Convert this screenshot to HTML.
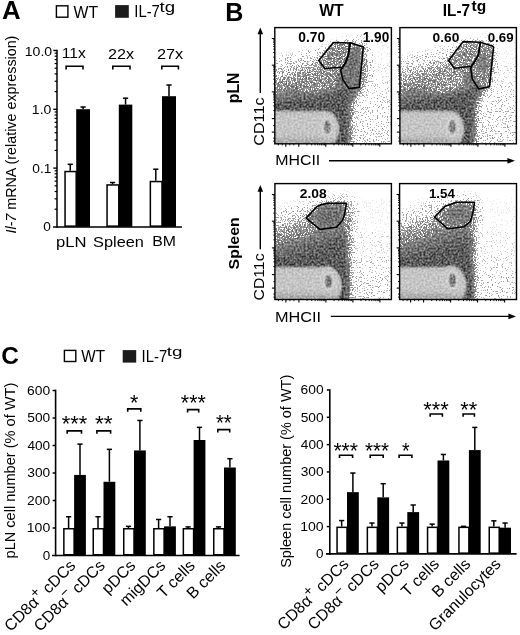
<!DOCTYPE html>
<html><head><meta charset="utf-8"><style>html,body{margin:0;padding:0;background:#fff;}svg{display:block;filter:grayscale(1);font-family:"Liberation Sans", sans-serif;}</style></head>
<body><svg width="520" height="635" viewBox="0 0 520 635" font-family="'Liberation Sans', sans-serif">
<defs><filter id="b1" x="-50%" y="-50%" width="200%" height="200%" color-interpolation-filters="sRGB"><feGaussianBlur stdDeviation="0.5"/></filter><filter id="b2" x="-50%" y="-50%" width="200%" height="200%" color-interpolation-filters="sRGB"><feGaussianBlur stdDeviation="1.0"/></filter><filter id="b3" x="-50%" y="-50%" width="200%" height="200%" color-interpolation-filters="sRGB"><feGaussianBlur stdDeviation="1.5"/></filter><filter id="b4" x="-50%" y="-50%" width="200%" height="200%" color-interpolation-filters="sRGB"><feGaussianBlur stdDeviation="2.0"/></filter><filter id="b5" x="-50%" y="-50%" width="200%" height="200%" color-interpolation-filters="sRGB"><feGaussianBlur stdDeviation="2.5"/></filter><filter id="b6" x="-50%" y="-50%" width="200%" height="200%" color-interpolation-filters="sRGB"><feGaussianBlur stdDeviation="3.0"/></filter><filter id="b8" x="-50%" y="-50%" width="200%" height="200%" color-interpolation-filters="sRGB"><feGaussianBlur stdDeviation="4.0"/></filter><filter id="b10" x="-50%" y="-50%" width="200%" height="200%" color-interpolation-filters="sRGB"><feGaussianBlur stdDeviation="5.0"/></filter><linearGradient id="lg1" gradientUnits="userSpaceOnUse" x1="0" y1="27" x2="0" y2="150"><stop offset="0" stop-color="rgb(0,0,0)"/><stop offset="0.2" stop-color="rgb(1,1,1)"/><stop offset="0.5" stop-color="rgb(3,3,3)"/><stop offset="0.8" stop-color="rgb(6,6,6)"/><stop offset="1.0" stop-color="rgb(7,7,7)"/></linearGradient><linearGradient id="lg2" gradientUnits="userSpaceOnUse" x1="274" y1="58" x2="287.5" y2="108.2"><stop offset="0" stop-color="rgb(0,0,0)"/><stop offset="0.033" stop-color="rgb(2,2,2)"/><stop offset="0.18" stop-color="rgb(10,10,10)"/><stop offset="0.35" stop-color="rgb(20,20,20)"/><stop offset="0.55" stop-color="rgb(32,32,32)"/><stop offset="0.74" stop-color="rgb(42,42,42)"/><stop offset="0.85" stop-color="rgb(52,52,52)"/><stop offset="0.94" stop-color="rgb(64,64,64)"/><stop offset="1.0" stop-color="rgb(69,69,69)"/></linearGradient><filter id="fl1" filterUnits="userSpaceOnUse" x="274.8" y="27.6" width="116.59999999999997" height="116.20000000000002" color-interpolation-filters="sRGB">
<feColorMatrix in="SourceGraphic" type="matrix" values="0 0 0 0 0 0 0 0 0 0 0 0 0 0 0 1 0 0 0 0" result="DA"/>
<feTurbulence type="fractalNoise" baseFrequency="0.8" numOctaves="2" seed="3" result="T"/>
<feColorMatrix in="T" type="matrix" values="0 0 0 0 0 0 0 0 0 0 0 0 0 0 0 1 0 0 0 0" result="NA"/>
<feComponentTransfer in="NA" result="NU"><feFuncA type="linear" slope="3.2" intercept="-1.1"/></feComponentTransfer>
<feComposite in="DA" in2="NU" operator="arithmetic" k1="0" k2="70.0" k3="-10" k4="0" result="COV"/>
<feComponentTransfer in="SourceGraphic" result="CM"><feFuncR type="table" tableValues="0.660 0.660 0.660 0.613 0.575 0.545 0.523 0.507 0.488 0.464 0.440 0.412 0.384 0.366 0.358 0.350 0.360 0.370 0.380 0.418 0.456 0.493 0.531 0.567 0.601 0.635 0.669 0.703 0.724 0.732 0.740 0.748 0.756 0.762 0.766 0.771 0.775 0.786 0.797 0.809 0.820 0.797 0.774 0.751 0.712 0.655 0.598 0.553 0.519 0.484 0.450"/><feFuncG type="table" tableValues="0.660 0.660 0.660 0.613 0.575 0.545 0.523 0.507 0.488 0.464 0.440 0.412 0.384 0.366 0.358 0.350 0.360 0.370 0.380 0.418 0.456 0.493 0.531 0.567 0.601 0.635 0.669 0.703 0.724 0.732 0.740 0.748 0.756 0.762 0.766 0.771 0.775 0.786 0.797 0.809 0.820 0.797 0.774 0.751 0.712 0.655 0.598 0.553 0.519 0.484 0.450"/><feFuncB type="table" tableValues="0.660 0.660 0.660 0.613 0.575 0.545 0.523 0.507 0.488 0.464 0.440 0.412 0.384 0.366 0.358 0.350 0.360 0.370 0.380 0.418 0.456 0.493 0.531 0.567 0.601 0.635 0.669 0.703 0.724 0.732 0.740 0.748 0.756 0.762 0.766 0.771 0.775 0.786 0.797 0.809 0.820 0.797 0.774 0.751 0.712 0.655 0.598 0.553 0.519 0.484 0.450"/><feFuncA type="linear" slope="0" intercept="1"/></feComponentTransfer>
<feTurbulence type="fractalNoise" baseFrequency="0.5" numOctaves="2" seed="53" result="T2"/>
<feColorMatrix in="T2" type="matrix" values="2.4 0 0 0 -0.7 2.4 0 0 0 -0.7 2.4 0 0 0 -0.7 0 0 0 0 1" result="N2"/>
<feComposite in="CM" in2="N2" operator="arithmetic" k1="-0.6" k2="1.3" k3="0.6" k4="-0.3" result="CMN"/>
<feComposite in="CMN" in2="COV" operator="in" result="DOTS"/>
<feFlood flood-color="#fff" result="W"/>
<feMerge result="M"><feMergeNode in="W"/><feMergeNode in="DOTS"/></feMerge>
<feGaussianBlur in="M" stdDeviation="0.6"/>
</filter><clipPath id="cp1"><rect x="274.8" y="27.6" width="116.60" height="116.20"/></clipPath><linearGradient id="lg3" gradientUnits="userSpaceOnUse" x1="0" y1="27" x2="0" y2="150"><stop offset="0" stop-color="rgb(0,0,0)"/><stop offset="0.2" stop-color="rgb(1,1,1)"/><stop offset="0.5" stop-color="rgb(3,3,3)"/><stop offset="0.8" stop-color="rgb(6,6,6)"/><stop offset="1.0" stop-color="rgb(7,7,7)"/></linearGradient><linearGradient id="lg4" gradientUnits="userSpaceOnUse" x1="399.1" y1="58" x2="412.6" y2="108.2"><stop offset="0" stop-color="rgb(0,0,0)"/><stop offset="0.033" stop-color="rgb(2,2,2)"/><stop offset="0.18" stop-color="rgb(10,10,10)"/><stop offset="0.35" stop-color="rgb(20,20,20)"/><stop offset="0.55" stop-color="rgb(32,32,32)"/><stop offset="0.74" stop-color="rgb(42,42,42)"/><stop offset="0.85" stop-color="rgb(52,52,52)"/><stop offset="0.94" stop-color="rgb(64,64,64)"/><stop offset="1.0" stop-color="rgb(69,69,69)"/></linearGradient><filter id="fl2" filterUnits="userSpaceOnUse" x="399.9" y="27.6" width="116.5" height="116.20000000000002" color-interpolation-filters="sRGB">
<feColorMatrix in="SourceGraphic" type="matrix" values="0 0 0 0 0 0 0 0 0 0 0 0 0 0 0 1 0 0 0 0" result="DA"/>
<feTurbulence type="fractalNoise" baseFrequency="0.8" numOctaves="2" seed="7" result="T"/>
<feColorMatrix in="T" type="matrix" values="0 0 0 0 0 0 0 0 0 0 0 0 0 0 0 1 0 0 0 0" result="NA"/>
<feComponentTransfer in="NA" result="NU"><feFuncA type="linear" slope="3.2" intercept="-1.1"/></feComponentTransfer>
<feComposite in="DA" in2="NU" operator="arithmetic" k1="0" k2="70.0" k3="-10" k4="0" result="COV"/>
<feComponentTransfer in="SourceGraphic" result="CM"><feFuncR type="table" tableValues="0.660 0.660 0.660 0.613 0.575 0.545 0.523 0.507 0.488 0.464 0.440 0.412 0.384 0.366 0.358 0.350 0.360 0.370 0.380 0.418 0.456 0.493 0.531 0.567 0.601 0.635 0.669 0.703 0.724 0.732 0.740 0.748 0.756 0.762 0.766 0.771 0.775 0.786 0.797 0.809 0.820 0.797 0.774 0.751 0.712 0.655 0.598 0.553 0.519 0.484 0.450"/><feFuncG type="table" tableValues="0.660 0.660 0.660 0.613 0.575 0.545 0.523 0.507 0.488 0.464 0.440 0.412 0.384 0.366 0.358 0.350 0.360 0.370 0.380 0.418 0.456 0.493 0.531 0.567 0.601 0.635 0.669 0.703 0.724 0.732 0.740 0.748 0.756 0.762 0.766 0.771 0.775 0.786 0.797 0.809 0.820 0.797 0.774 0.751 0.712 0.655 0.598 0.553 0.519 0.484 0.450"/><feFuncB type="table" tableValues="0.660 0.660 0.660 0.613 0.575 0.545 0.523 0.507 0.488 0.464 0.440 0.412 0.384 0.366 0.358 0.350 0.360 0.370 0.380 0.418 0.456 0.493 0.531 0.567 0.601 0.635 0.669 0.703 0.724 0.732 0.740 0.748 0.756 0.762 0.766 0.771 0.775 0.786 0.797 0.809 0.820 0.797 0.774 0.751 0.712 0.655 0.598 0.553 0.519 0.484 0.450"/><feFuncA type="linear" slope="0" intercept="1"/></feComponentTransfer>
<feTurbulence type="fractalNoise" baseFrequency="0.5" numOctaves="2" seed="57" result="T2"/>
<feColorMatrix in="T2" type="matrix" values="2.4 0 0 0 -0.7 2.4 0 0 0 -0.7 2.4 0 0 0 -0.7 0 0 0 0 1" result="N2"/>
<feComposite in="CM" in2="N2" operator="arithmetic" k1="-0.6" k2="1.3" k3="0.6" k4="-0.3" result="CMN"/>
<feComposite in="CMN" in2="COV" operator="in" result="DOTS"/>
<feFlood flood-color="#fff" result="W"/>
<feMerge result="M"><feMergeNode in="W"/><feMergeNode in="DOTS"/></feMerge>
<feGaussianBlur in="M" stdDeviation="0.6"/>
</filter><clipPath id="cp2"><rect x="399.9" y="27.6" width="116.50" height="116.20"/></clipPath><linearGradient id="lg5" gradientUnits="userSpaceOnUse" x1="0" y1="183" x2="0" y2="305"><stop offset="0" stop-color="rgb(0,0,0)"/><stop offset="0.2" stop-color="rgb(1,1,1)"/><stop offset="0.5" stop-color="rgb(2,2,2)"/><stop offset="0.8" stop-color="rgb(4,4,4)"/><stop offset="1.0" stop-color="rgb(5,5,5)"/></linearGradient><linearGradient id="lg6" gradientUnits="userSpaceOnUse" x1="274" y1="204" x2="292.6" y2="263.1"><stop offset="0" stop-color="rgb(0,0,0)"/><stop offset="0.145" stop-color="rgb(2,2,2)"/><stop offset="0.268" stop-color="rgb(10,10,10)"/><stop offset="0.39" stop-color="rgb(19,19,19)"/><stop offset="0.545" stop-color="rgb(31,31,31)"/><stop offset="0.7" stop-color="rgb(41,41,41)"/><stop offset="0.806" stop-color="rgb(52,52,52)"/><stop offset="0.9" stop-color="rgb(64,64,64)"/><stop offset="1.0" stop-color="rgb(69,69,69)"/></linearGradient><filter id="fl3" filterUnits="userSpaceOnUse" x="274.9" y="183.6" width="116.5" height="115.9" color-interpolation-filters="sRGB">
<feColorMatrix in="SourceGraphic" type="matrix" values="0 0 0 0 0 0 0 0 0 0 0 0 0 0 0 1 0 0 0 0" result="DA"/>
<feTurbulence type="fractalNoise" baseFrequency="0.8" numOctaves="2" seed="11" result="T"/>
<feColorMatrix in="T" type="matrix" values="0 0 0 0 0 0 0 0 0 0 0 0 0 0 0 1 0 0 0 0" result="NA"/>
<feComponentTransfer in="NA" result="NU"><feFuncA type="linear" slope="3.2" intercept="-1.1"/></feComponentTransfer>
<feComposite in="DA" in2="NU" operator="arithmetic" k1="0" k2="70.0" k3="-10" k4="0" result="COV"/>
<feComponentTransfer in="SourceGraphic" result="CM"><feFuncR type="table" tableValues="0.660 0.660 0.660 0.613 0.575 0.545 0.523 0.507 0.488 0.464 0.440 0.412 0.384 0.366 0.358 0.350 0.360 0.370 0.380 0.418 0.456 0.493 0.531 0.567 0.601 0.635 0.669 0.703 0.724 0.732 0.740 0.748 0.756 0.762 0.766 0.771 0.775 0.786 0.797 0.809 0.820 0.797 0.774 0.751 0.712 0.655 0.598 0.553 0.519 0.484 0.450"/><feFuncG type="table" tableValues="0.660 0.660 0.660 0.613 0.575 0.545 0.523 0.507 0.488 0.464 0.440 0.412 0.384 0.366 0.358 0.350 0.360 0.370 0.380 0.418 0.456 0.493 0.531 0.567 0.601 0.635 0.669 0.703 0.724 0.732 0.740 0.748 0.756 0.762 0.766 0.771 0.775 0.786 0.797 0.809 0.820 0.797 0.774 0.751 0.712 0.655 0.598 0.553 0.519 0.484 0.450"/><feFuncB type="table" tableValues="0.660 0.660 0.660 0.613 0.575 0.545 0.523 0.507 0.488 0.464 0.440 0.412 0.384 0.366 0.358 0.350 0.360 0.370 0.380 0.418 0.456 0.493 0.531 0.567 0.601 0.635 0.669 0.703 0.724 0.732 0.740 0.748 0.756 0.762 0.766 0.771 0.775 0.786 0.797 0.809 0.820 0.797 0.774 0.751 0.712 0.655 0.598 0.553 0.519 0.484 0.450"/><feFuncA type="linear" slope="0" intercept="1"/></feComponentTransfer>
<feTurbulence type="fractalNoise" baseFrequency="0.5" numOctaves="2" seed="61" result="T2"/>
<feColorMatrix in="T2" type="matrix" values="2.4 0 0 0 -0.7 2.4 0 0 0 -0.7 2.4 0 0 0 -0.7 0 0 0 0 1" result="N2"/>
<feComposite in="CM" in2="N2" operator="arithmetic" k1="-0.6" k2="1.3" k3="0.6" k4="-0.3" result="CMN"/>
<feComposite in="CMN" in2="COV" operator="in" result="DOTS"/>
<feFlood flood-color="#fff" result="W"/>
<feMerge result="M"><feMergeNode in="W"/><feMergeNode in="DOTS"/></feMerge>
<feGaussianBlur in="M" stdDeviation="0.6"/>
</filter><clipPath id="cp3"><rect x="274.9" y="183.6" width="116.50" height="115.90"/></clipPath><linearGradient id="lg7" gradientUnits="userSpaceOnUse" x1="0" y1="183" x2="0" y2="305"><stop offset="0" stop-color="rgb(0,0,0)"/><stop offset="0.2" stop-color="rgb(1,1,1)"/><stop offset="0.5" stop-color="rgb(2,2,2)"/><stop offset="0.8" stop-color="rgb(4,4,4)"/><stop offset="1.0" stop-color="rgb(5,5,5)"/></linearGradient><linearGradient id="lg8" gradientUnits="userSpaceOnUse" x1="398.7" y1="204" x2="417.3" y2="263.1"><stop offset="0" stop-color="rgb(0,0,0)"/><stop offset="0.145" stop-color="rgb(2,2,2)"/><stop offset="0.268" stop-color="rgb(10,10,10)"/><stop offset="0.39" stop-color="rgb(19,19,19)"/><stop offset="0.545" stop-color="rgb(31,31,31)"/><stop offset="0.7" stop-color="rgb(41,41,41)"/><stop offset="0.806" stop-color="rgb(52,52,52)"/><stop offset="0.9" stop-color="rgb(64,64,64)"/><stop offset="1.0" stop-color="rgb(69,69,69)"/></linearGradient><filter id="fl4" filterUnits="userSpaceOnUse" x="399.6" y="183.6" width="116.89999999999998" height="115.9" color-interpolation-filters="sRGB">
<feColorMatrix in="SourceGraphic" type="matrix" values="0 0 0 0 0 0 0 0 0 0 0 0 0 0 0 1 0 0 0 0" result="DA"/>
<feTurbulence type="fractalNoise" baseFrequency="0.8" numOctaves="2" seed="13" result="T"/>
<feColorMatrix in="T" type="matrix" values="0 0 0 0 0 0 0 0 0 0 0 0 0 0 0 1 0 0 0 0" result="NA"/>
<feComponentTransfer in="NA" result="NU"><feFuncA type="linear" slope="3.2" intercept="-1.1"/></feComponentTransfer>
<feComposite in="DA" in2="NU" operator="arithmetic" k1="0" k2="70.0" k3="-10" k4="0" result="COV"/>
<feComponentTransfer in="SourceGraphic" result="CM"><feFuncR type="table" tableValues="0.660 0.660 0.660 0.613 0.575 0.545 0.523 0.507 0.488 0.464 0.440 0.412 0.384 0.366 0.358 0.350 0.360 0.370 0.380 0.418 0.456 0.493 0.531 0.567 0.601 0.635 0.669 0.703 0.724 0.732 0.740 0.748 0.756 0.762 0.766 0.771 0.775 0.786 0.797 0.809 0.820 0.797 0.774 0.751 0.712 0.655 0.598 0.553 0.519 0.484 0.450"/><feFuncG type="table" tableValues="0.660 0.660 0.660 0.613 0.575 0.545 0.523 0.507 0.488 0.464 0.440 0.412 0.384 0.366 0.358 0.350 0.360 0.370 0.380 0.418 0.456 0.493 0.531 0.567 0.601 0.635 0.669 0.703 0.724 0.732 0.740 0.748 0.756 0.762 0.766 0.771 0.775 0.786 0.797 0.809 0.820 0.797 0.774 0.751 0.712 0.655 0.598 0.553 0.519 0.484 0.450"/><feFuncB type="table" tableValues="0.660 0.660 0.660 0.613 0.575 0.545 0.523 0.507 0.488 0.464 0.440 0.412 0.384 0.366 0.358 0.350 0.360 0.370 0.380 0.418 0.456 0.493 0.531 0.567 0.601 0.635 0.669 0.703 0.724 0.732 0.740 0.748 0.756 0.762 0.766 0.771 0.775 0.786 0.797 0.809 0.820 0.797 0.774 0.751 0.712 0.655 0.598 0.553 0.519 0.484 0.450"/><feFuncA type="linear" slope="0" intercept="1"/></feComponentTransfer>
<feTurbulence type="fractalNoise" baseFrequency="0.5" numOctaves="2" seed="63" result="T2"/>
<feColorMatrix in="T2" type="matrix" values="2.4 0 0 0 -0.7 2.4 0 0 0 -0.7 2.4 0 0 0 -0.7 0 0 0 0 1" result="N2"/>
<feComposite in="CM" in2="N2" operator="arithmetic" k1="-0.6" k2="1.3" k3="0.6" k4="-0.3" result="CMN"/>
<feComposite in="CMN" in2="COV" operator="in" result="DOTS"/>
<feFlood flood-color="#fff" result="W"/>
<feMerge result="M"><feMergeNode in="W"/><feMergeNode in="DOTS"/></feMerge>
<feGaussianBlur in="M" stdDeviation="0.6"/>
</filter><clipPath id="cp4"><rect x="399.6" y="183.6" width="116.90" height="115.90"/></clipPath></defs>
<rect width="520" height="635" fill="#fff"/>
<text transform="translate(1.95,19.30) scale(1.030,1)" font-size="25.07" font-weight="bold" fill="#000">A</text>
<rect x="56.40" y="5.80" width="11.50" height="11.40" fill="#fff" stroke="#000" stroke-width="1.4"/>
<text transform="translate(73.52,17.50) scale(0.933,1)" font-size="16.96" fill="#000">WT</text>
<rect x="115.10" y="5.10" width="13.70" height="12.70" fill="#1c1c1c"/>
<text transform="translate(134.26,17.20) scale(0.925,1)" font-size="16.09" fill="#000">IL-7</text>
<text transform="translate(159.52,11.77) scale(1.295,1)" font-size="14.42" fill="#000">tg</text>
<text transform="translate(16.29,233.57) rotate(-90) scale(0.999,1)" font-size="14.33"><tspan font-style="italic">Il-7</tspan><tspan> mRNA (relative expression)</tspan></text>
<line x1="57.00" y1="49.75" x2="57.00" y2="227.65" stroke="#000" stroke-width="1.5"/>
<line x1="53.00" y1="226.90" x2="182.00" y2="226.90" stroke="#000" stroke-width="1.5"/>
<line x1="53.30" y1="50.50" x2="57.00" y2="50.50" stroke="#000" stroke-width="1.4"/>
<line x1="54.60" y1="91.60" x2="57.00" y2="91.60" stroke="#000" stroke-width="1.2"/>
<line x1="54.60" y1="81.25" x2="57.00" y2="81.25" stroke="#000" stroke-width="1.2"/>
<line x1="54.60" y1="73.90" x2="57.00" y2="73.90" stroke="#000" stroke-width="1.2"/>
<line x1="54.60" y1="68.20" x2="57.00" y2="68.20" stroke="#000" stroke-width="1.2"/>
<line x1="54.60" y1="63.54" x2="57.00" y2="63.54" stroke="#000" stroke-width="1.2"/>
<line x1="54.60" y1="59.61" x2="57.00" y2="59.61" stroke="#000" stroke-width="1.2"/>
<line x1="54.60" y1="56.20" x2="57.00" y2="56.20" stroke="#000" stroke-width="1.2"/>
<line x1="54.60" y1="53.19" x2="57.00" y2="53.19" stroke="#000" stroke-width="1.2"/>
<line x1="53.30" y1="109.30" x2="57.00" y2="109.30" stroke="#000" stroke-width="1.4"/>
<line x1="54.60" y1="150.40" x2="57.00" y2="150.40" stroke="#000" stroke-width="1.2"/>
<line x1="54.60" y1="140.05" x2="57.00" y2="140.05" stroke="#000" stroke-width="1.2"/>
<line x1="54.60" y1="132.70" x2="57.00" y2="132.70" stroke="#000" stroke-width="1.2"/>
<line x1="54.60" y1="127.00" x2="57.00" y2="127.00" stroke="#000" stroke-width="1.2"/>
<line x1="54.60" y1="122.34" x2="57.00" y2="122.34" stroke="#000" stroke-width="1.2"/>
<line x1="54.60" y1="118.41" x2="57.00" y2="118.41" stroke="#000" stroke-width="1.2"/>
<line x1="54.60" y1="115.00" x2="57.00" y2="115.00" stroke="#000" stroke-width="1.2"/>
<line x1="54.60" y1="111.99" x2="57.00" y2="111.99" stroke="#000" stroke-width="1.2"/>
<line x1="53.30" y1="168.10" x2="57.00" y2="168.10" stroke="#000" stroke-width="1.4"/>
<line x1="54.60" y1="209.20" x2="57.00" y2="209.20" stroke="#000" stroke-width="1.2"/>
<line x1="54.60" y1="198.85" x2="57.00" y2="198.85" stroke="#000" stroke-width="1.2"/>
<line x1="54.60" y1="191.50" x2="57.00" y2="191.50" stroke="#000" stroke-width="1.2"/>
<line x1="54.60" y1="185.80" x2="57.00" y2="185.80" stroke="#000" stroke-width="1.2"/>
<line x1="54.60" y1="181.14" x2="57.00" y2="181.14" stroke="#000" stroke-width="1.2"/>
<line x1="54.60" y1="177.21" x2="57.00" y2="177.21" stroke="#000" stroke-width="1.2"/>
<line x1="54.60" y1="173.80" x2="57.00" y2="173.80" stroke="#000" stroke-width="1.2"/>
<line x1="54.60" y1="170.79" x2="57.00" y2="170.79" stroke="#000" stroke-width="1.2"/>
<text transform="translate(24.74,55.77) scale(1.088,1)" font-size="12.96" fill="#000">10.0</text>
<text transform="translate(31.85,114.27) scale(1.049,1)" font-size="13.38" fill="#000">1.0</text>
<text transform="translate(32.35,172.97) scale(1.029,1)" font-size="13.38" fill="#000">0.1</text>
<text transform="translate(43.25,231.07) scale(1.034,1)" font-size="13.24" fill="#000">0</text>
<rect x="65.05" y="171.55" width="11.15" height="54.60" fill="#fff" stroke="#000" stroke-width="1.5"/>
<line x1="70.25" y1="170.80" x2="70.25" y2="164.30" stroke="#000" stroke-width="1.5"/>
<line x1="67.65" y1="164.30" x2="72.85" y2="164.30" stroke="#000" stroke-width="1.5"/>
<rect x="76.20" y="109.20" width="13.80" height="117.70" fill="#000"/>
<line x1="83.10" y1="109.20" x2="83.10" y2="107.00" stroke="#000" stroke-width="1.5"/>
<line x1="80.50" y1="107.00" x2="85.70" y2="107.00" stroke="#000" stroke-width="1.5"/>
<rect x="107.05" y="184.95" width="11.75" height="41.20" fill="#fff" stroke="#000" stroke-width="1.5"/>
<line x1="112.55" y1="184.20" x2="112.55" y2="182.50" stroke="#000" stroke-width="1.5"/>
<line x1="109.95" y1="182.50" x2="115.15" y2="182.50" stroke="#000" stroke-width="1.5"/>
<rect x="118.80" y="104.60" width="13.50" height="122.30" fill="#000"/>
<line x1="125.55" y1="104.60" x2="125.55" y2="98.20" stroke="#000" stroke-width="1.5"/>
<line x1="122.95" y1="98.20" x2="128.15" y2="98.20" stroke="#000" stroke-width="1.5"/>
<rect x="150.35" y="181.55" width="11.65" height="44.60" fill="#fff" stroke="#000" stroke-width="1.5"/>
<line x1="155.80" y1="180.80" x2="155.80" y2="169.20" stroke="#000" stroke-width="1.5"/>
<line x1="153.20" y1="169.20" x2="158.40" y2="169.20" stroke="#000" stroke-width="1.5"/>
<rect x="162.00" y="96.20" width="14.00" height="130.70" fill="#000"/>
<line x1="169.00" y1="96.20" x2="169.00" y2="85.00" stroke="#000" stroke-width="1.5"/>
<line x1="166.40" y1="85.00" x2="171.60" y2="85.00" stroke="#000" stroke-width="1.5"/>
<text transform="translate(61.83,58.49) scale(1.007,1)" font-size="15.50" fill="#000">11x</text>
<text transform="translate(107.99,58.65) scale(1.041,1)" font-size="15.50" fill="#000">22x</text>
<text transform="translate(156.88,58.65) scale(1.053,1)" font-size="15.50" fill="#000">27x</text>
<path d="M66.10,69.50V66.30H83.00V69.50" fill="none" stroke="#000" stroke-width="1.6"/>
<path d="M112.80,69.50V66.30H130.00V69.50" fill="none" stroke="#000" stroke-width="1.6"/>
<path d="M161.80,69.50V66.30H178.40V69.50" fill="none" stroke="#000" stroke-width="1.6"/>
<text transform="translate(56.12,246.82) scale(1.133,1)" font-size="14.67" fill="#000">pLN</text>
<text transform="translate(93.06,246.84) scale(1.135,1)" font-size="14.40" fill="#000">Spleen</text>
<text transform="translate(152.24,246.34) scale(1.098,1)" font-size="14.40" fill="#000">BM</text>
<text transform="translate(1.32,363.97) scale(1.051,1)" font-size="23.24" font-weight="bold" fill="#000">C</text>
<rect x="64.40" y="350.40" width="11.40" height="11.10" fill="#fff" stroke="#000" stroke-width="1.4"/>
<text transform="translate(81.22,361.80) scale(0.968,1)" font-size="15.80" fill="#000">WT</text>
<rect x="122.70" y="350.10" width="13.50" height="12.50" fill="#1c1c1c"/>
<text transform="translate(141.56,361.80) scale(0.954,1)" font-size="15.65" fill="#000">IL-7</text>
<text transform="translate(166.82,356.02) scale(1.419,1)" font-size="13.26" fill="#000">tg</text>
<line x1="55.60" y1="389.70" x2="55.60" y2="556.30" stroke="#000" stroke-width="1.6"/>
<line x1="52.00" y1="555.50" x2="239.60" y2="555.50" stroke="#000" stroke-width="1.6"/>
<line x1="52.60" y1="528.00" x2="55.60" y2="528.00" stroke="#000" stroke-width="1.5"/>
<line x1="52.60" y1="500.50" x2="55.60" y2="500.50" stroke="#000" stroke-width="1.5"/>
<line x1="52.60" y1="473.00" x2="55.60" y2="473.00" stroke="#000" stroke-width="1.5"/>
<line x1="52.60" y1="445.50" x2="55.60" y2="445.50" stroke="#000" stroke-width="1.5"/>
<line x1="52.60" y1="418.00" x2="55.60" y2="418.00" stroke="#000" stroke-width="1.5"/>
<line x1="52.60" y1="390.50" x2="55.60" y2="390.50" stroke="#000" stroke-width="1.5"/>
<text transform="translate(42.66,559.77) scale(1.063,1)" font-size="12.68" fill="#000">0</text>
<text transform="translate(26.75,532.27) scale(1.110,1)" font-size="12.68" fill="#000">100</text>
<text transform="translate(27.11,504.77) scale(1.092,1)" font-size="12.68" fill="#000">200</text>
<text transform="translate(27.25,477.27) scale(1.085,1)" font-size="12.68" fill="#000">300</text>
<text transform="translate(27.46,449.77) scale(1.075,1)" font-size="12.68" fill="#000">400</text>
<text transform="translate(27.25,422.27) scale(1.085,1)" font-size="12.68" fill="#000">500</text>
<text transform="translate(27.11,394.77) scale(1.092,1)" font-size="12.68" fill="#000">600</text>
<rect x="63.85" y="528.75" width="10.25" height="26.00" fill="#fff" stroke="#000" stroke-width="1.5"/>
<line x1="68.60" y1="528.00" x2="68.60" y2="516.73" stroke="#000" stroke-width="1.5"/>
<line x1="66.00" y1="516.73" x2="71.20" y2="516.73" stroke="#000" stroke-width="1.5"/>
<rect x="74.10" y="474.93" width="11.80" height="80.57" fill="#000"/>
<line x1="80.00" y1="474.93" x2="80.00" y2="444.12" stroke="#000" stroke-width="1.5"/>
<line x1="77.40" y1="444.12" x2="82.60" y2="444.12" stroke="#000" stroke-width="1.5"/>
<rect x="93.25" y="528.75" width="10.25" height="26.00" fill="#fff" stroke="#000" stroke-width="1.5"/>
<line x1="98.00" y1="528.00" x2="98.00" y2="516.73" stroke="#000" stroke-width="1.5"/>
<line x1="95.40" y1="516.73" x2="100.60" y2="516.73" stroke="#000" stroke-width="1.5"/>
<rect x="103.50" y="481.80" width="11.80" height="73.70" fill="#000"/>
<line x1="109.40" y1="481.80" x2="109.40" y2="449.35" stroke="#000" stroke-width="1.5"/>
<line x1="106.80" y1="449.35" x2="112.00" y2="449.35" stroke="#000" stroke-width="1.5"/>
<rect x="123.75" y="528.75" width="10.25" height="26.00" fill="#fff" stroke="#000" stroke-width="1.5"/>
<line x1="128.50" y1="528.00" x2="128.50" y2="526.35" stroke="#000" stroke-width="1.5"/>
<line x1="125.90" y1="526.35" x2="131.10" y2="526.35" stroke="#000" stroke-width="1.5"/>
<rect x="134.00" y="450.45" width="11.80" height="105.05" fill="#000"/>
<line x1="139.90" y1="450.45" x2="139.90" y2="420.48" stroke="#000" stroke-width="1.5"/>
<line x1="137.30" y1="420.48" x2="142.50" y2="420.48" stroke="#000" stroke-width="1.5"/>
<rect x="153.85" y="528.75" width="10.25" height="26.00" fill="#fff" stroke="#000" stroke-width="1.5"/>
<line x1="158.60" y1="528.00" x2="158.60" y2="519.48" stroke="#000" stroke-width="1.5"/>
<line x1="156.00" y1="519.48" x2="161.20" y2="519.48" stroke="#000" stroke-width="1.5"/>
<rect x="164.10" y="526.35" width="11.80" height="29.15" fill="#000"/>
<line x1="170.00" y1="526.35" x2="170.00" y2="516.73" stroke="#000" stroke-width="1.5"/>
<line x1="167.40" y1="516.73" x2="172.60" y2="516.73" stroke="#000" stroke-width="1.5"/>
<rect x="183.35" y="528.75" width="10.25" height="26.00" fill="#fff" stroke="#000" stroke-width="1.5"/>
<line x1="188.10" y1="528.00" x2="188.10" y2="526.90" stroke="#000" stroke-width="1.5"/>
<line x1="185.50" y1="526.90" x2="190.70" y2="526.90" stroke="#000" stroke-width="1.5"/>
<rect x="193.60" y="440.00" width="11.80" height="115.50" fill="#000"/>
<line x1="199.50" y1="440.00" x2="199.50" y2="427.35" stroke="#000" stroke-width="1.5"/>
<line x1="196.90" y1="427.35" x2="202.10" y2="427.35" stroke="#000" stroke-width="1.5"/>
<rect x="213.75" y="528.75" width="10.25" height="26.00" fill="#fff" stroke="#000" stroke-width="1.5"/>
<line x1="218.50" y1="528.00" x2="218.50" y2="526.90" stroke="#000" stroke-width="1.5"/>
<line x1="215.90" y1="526.90" x2="221.10" y2="526.90" stroke="#000" stroke-width="1.5"/>
<rect x="224.00" y="467.50" width="11.80" height="88.00" fill="#000"/>
<line x1="229.90" y1="467.50" x2="229.90" y2="458.70" stroke="#000" stroke-width="1.5"/>
<line x1="227.30" y1="458.70" x2="232.50" y2="458.70" stroke="#000" stroke-width="1.5"/>
<text transform="translate(61.66,431.03) scale(1.017,1)" font-size="21.50" fill="#000">***</text>
<path d="M67.20,433.70V430.90H81.50V433.70" fill="none" stroke="#000" stroke-width="1.6"/>
<text transform="translate(94.95,431.03) scale(1.056,1)" font-size="21.50" fill="#000">**</text>
<path d="M96.90,433.70V430.90H110.60V433.70" fill="none" stroke="#000" stroke-width="1.6"/>
<text transform="translate(130.07,410.03) scale(0.997,1)" font-size="21.50" fill="#000">*</text>
<path d="M127.70,411.70V408.90H140.80V411.70" fill="none" stroke="#000" stroke-width="1.6"/>
<text transform="translate(180.87,410.03) scale(0.996,1)" font-size="21.50" fill="#000">***</text>
<path d="M187.60,412.40V409.60H198.70V412.40" fill="none" stroke="#000" stroke-width="1.6"/>
<text transform="translate(215.89,430.33) scale(0.943,1)" font-size="21.50" fill="#000">**</text>
<path d="M217.80,432.40V429.60H229.70V432.40" fill="none" stroke="#000" stroke-width="1.6"/>
<text transform="translate(76.50,566.50) rotate(-45)" font-size="16" text-anchor="end">CD8α<tspan dy="-6.5" font-size="14">+</tspan><tspan dy="6.5"> </tspan>cDCs</text>
<text transform="translate(105.90,566.50) rotate(-45)" font-size="16" text-anchor="end">CD8α<tspan dy="-6.5" font-size="14">−</tspan><tspan dy="6.5"> </tspan>cDCs</text>
<text transform="translate(136.40,566.50) rotate(-45)" font-size="16" text-anchor="end">pDCs</text>
<text transform="translate(166.50,566.50) rotate(-45)" font-size="16" text-anchor="end">migDCs</text>
<text transform="translate(196.00,566.50) rotate(-45)" font-size="16" text-anchor="end">T cells</text>
<text transform="translate(226.40,566.50) rotate(-45)" font-size="16" text-anchor="end">B cells</text>
<text transform="translate(14.57,558.45) rotate(-90) scale(1.010,1)" font-size="14.44"><tspan>pLN cell number (% of WT)</tspan></text>
<line x1="329.80" y1="389.18" x2="329.80" y2="554.70" stroke="#000" stroke-width="1.6"/>
<line x1="326.00" y1="553.90" x2="516.60" y2="553.90" stroke="#000" stroke-width="1.6"/>
<line x1="326.80" y1="526.58" x2="329.80" y2="526.58" stroke="#000" stroke-width="1.5"/>
<line x1="326.80" y1="499.26" x2="329.80" y2="499.26" stroke="#000" stroke-width="1.5"/>
<line x1="326.80" y1="471.94" x2="329.80" y2="471.94" stroke="#000" stroke-width="1.5"/>
<line x1="326.80" y1="444.62" x2="329.80" y2="444.62" stroke="#000" stroke-width="1.5"/>
<line x1="326.80" y1="417.30" x2="329.80" y2="417.30" stroke="#000" stroke-width="1.5"/>
<line x1="326.80" y1="389.98" x2="329.80" y2="389.98" stroke="#000" stroke-width="1.5"/>
<text transform="translate(316.06,558.17) scale(1.063,1)" font-size="12.68" fill="#000">0</text>
<text transform="translate(300.15,530.85) scale(1.110,1)" font-size="12.68" fill="#000">100</text>
<text transform="translate(300.51,503.53) scale(1.092,1)" font-size="12.68" fill="#000">200</text>
<text transform="translate(300.65,476.21) scale(1.085,1)" font-size="12.68" fill="#000">300</text>
<text transform="translate(300.86,448.89) scale(1.075,1)" font-size="12.68" fill="#000">400</text>
<text transform="translate(300.65,421.57) scale(1.085,1)" font-size="12.68" fill="#000">500</text>
<text transform="translate(300.51,394.25) scale(1.092,1)" font-size="12.68" fill="#000">600</text>
<rect x="337.05" y="527.33" width="9.95" height="25.82" fill="#fff" stroke="#000" stroke-width="1.5"/>
<line x1="341.65" y1="526.58" x2="341.65" y2="520.57" stroke="#000" stroke-width="1.5"/>
<line x1="339.05" y1="520.57" x2="344.25" y2="520.57" stroke="#000" stroke-width="1.5"/>
<rect x="347.00" y="492.16" width="11.80" height="61.74" fill="#000"/>
<line x1="352.90" y1="492.16" x2="352.90" y2="473.03" stroke="#000" stroke-width="1.5"/>
<line x1="350.30" y1="473.03" x2="355.50" y2="473.03" stroke="#000" stroke-width="1.5"/>
<rect x="367.35" y="527.33" width="9.95" height="25.82" fill="#fff" stroke="#000" stroke-width="1.5"/>
<line x1="371.95" y1="526.58" x2="371.95" y2="523.03" stroke="#000" stroke-width="1.5"/>
<line x1="369.35" y1="523.03" x2="374.55" y2="523.03" stroke="#000" stroke-width="1.5"/>
<rect x="377.30" y="497.35" width="11.80" height="56.55" fill="#000"/>
<line x1="383.20" y1="497.35" x2="383.20" y2="483.69" stroke="#000" stroke-width="1.5"/>
<line x1="380.60" y1="483.69" x2="385.80" y2="483.69" stroke="#000" stroke-width="1.5"/>
<rect x="397.35" y="527.33" width="9.95" height="25.82" fill="#fff" stroke="#000" stroke-width="1.5"/>
<line x1="401.95" y1="526.58" x2="401.95" y2="523.03" stroke="#000" stroke-width="1.5"/>
<line x1="399.35" y1="523.03" x2="404.55" y2="523.03" stroke="#000" stroke-width="1.5"/>
<rect x="407.30" y="512.10" width="11.80" height="41.80" fill="#000"/>
<line x1="413.20" y1="512.10" x2="413.20" y2="505.00" stroke="#000" stroke-width="1.5"/>
<line x1="410.60" y1="505.00" x2="415.80" y2="505.00" stroke="#000" stroke-width="1.5"/>
<rect x="427.55" y="527.33" width="9.95" height="25.82" fill="#fff" stroke="#000" stroke-width="1.5"/>
<line x1="432.15" y1="526.58" x2="432.15" y2="524.12" stroke="#000" stroke-width="1.5"/>
<line x1="429.55" y1="524.12" x2="434.75" y2="524.12" stroke="#000" stroke-width="1.5"/>
<rect x="437.50" y="460.47" width="11.80" height="93.43" fill="#000"/>
<line x1="443.40" y1="460.47" x2="443.40" y2="454.46" stroke="#000" stroke-width="1.5"/>
<line x1="440.80" y1="454.46" x2="446.00" y2="454.46" stroke="#000" stroke-width="1.5"/>
<rect x="458.95" y="527.33" width="9.95" height="25.82" fill="#fff" stroke="#000" stroke-width="1.5"/>
<line x1="460.95" y1="526.31" x2="466.15" y2="526.31" stroke="#000" stroke-width="1.5"/>
<rect x="468.90" y="450.08" width="11.80" height="103.82" fill="#000"/>
<line x1="474.80" y1="450.08" x2="474.80" y2="427.41" stroke="#000" stroke-width="1.5"/>
<line x1="472.20" y1="427.41" x2="477.40" y2="427.41" stroke="#000" stroke-width="1.5"/>
<rect x="489.25" y="527.33" width="9.95" height="25.82" fill="#fff" stroke="#000" stroke-width="1.5"/>
<line x1="493.85" y1="526.58" x2="493.85" y2="520.84" stroke="#000" stroke-width="1.5"/>
<line x1="491.25" y1="520.84" x2="496.45" y2="520.84" stroke="#000" stroke-width="1.5"/>
<rect x="499.20" y="527.67" width="11.80" height="26.23" fill="#000"/>
<line x1="505.10" y1="527.67" x2="505.10" y2="523.03" stroke="#000" stroke-width="1.5"/>
<line x1="502.50" y1="523.03" x2="507.70" y2="523.03" stroke="#000" stroke-width="1.5"/>
<text transform="translate(333.38,457.63) scale(0.984,1)" font-size="21.50" fill="#000">***</text>
<path d="M339.50,458.00V455.20H352.60V458.00" fill="none" stroke="#000" stroke-width="1.6"/>
<text transform="translate(365.09,457.63) scale(0.959,1)" font-size="21.50" fill="#000">***</text>
<path d="M370.20,458.00V455.20H383.20V458.00" fill="none" stroke="#000" stroke-width="1.6"/>
<text transform="translate(401.91,457.63) scale(0.917,1)" font-size="21.50" fill="#000">*</text>
<path d="M399.10,458.00V455.20H411.90V458.00" fill="none" stroke="#000" stroke-width="1.6"/>
<text transform="translate(423.36,417.03) scale(1.017,1)" font-size="21.50" fill="#000">***</text>
<path d="M430.20,416.80V414.00H442.40V416.80" fill="none" stroke="#000" stroke-width="1.6"/>
<text transform="translate(460.36,417.03) scale(1.018,1)" font-size="21.50" fill="#000">**</text>
<path d="M463.10,416.80V414.00H474.40V416.80" fill="none" stroke="#000" stroke-width="1.6"/>
<text transform="translate(349.55,565.00) rotate(-45)" font-size="16" text-anchor="end">CD8α<tspan dy="-6.5" font-size="14">+</tspan><tspan dy="6.5"> </tspan>cDCs</text>
<text transform="translate(379.85,565.00) rotate(-45)" font-size="16" text-anchor="end">CD8α<tspan dy="-6.5" font-size="14">−</tspan><tspan dy="6.5"> </tspan>cDCs</text>
<text transform="translate(409.85,565.00) rotate(-45)" font-size="16" text-anchor="end">pDCs</text>
<text transform="translate(440.05,565.00) rotate(-45)" font-size="16" text-anchor="end">T cells</text>
<text transform="translate(471.45,565.00) rotate(-45)" font-size="16" text-anchor="end">B cells</text>
<text transform="translate(501.75,565.00) rotate(-45)" font-size="16" text-anchor="end">Granulocytes</text>
<text transform="translate(290.50,567.85) rotate(-90) scale(0.982,1)" font-size="14.76"><tspan>Spleen cell number (% of WT)</tspan></text>
<text transform="translate(225.27,20.80) scale(0.967,1)" font-size="25.94" font-weight="bold" fill="#000">B</text>
<text transform="translate(319.20,16.20) scale(0.939,1)" font-size="16.81" font-weight="bold" fill="#000">WT</text>
<text transform="translate(442.80,15.90) scale(0.952,1)" font-size="16.09" font-weight="bold" fill="#000">IL-7</text>
<text transform="translate(471.54,11.41) scale(1.091,1)" font-size="14.22" font-weight="bold" fill="#000">tg</text>
<text transform="translate(239.49,103.23) rotate(-90) scale(0.977,1)" font-size="16.22"><tspan font-weight="bold">pLN</tspan></text>
<text transform="translate(239.31,269.38) rotate(-90) scale(1.047,1)" font-size="15.19"><tspan font-weight="bold">Spleen</tspan></text>
<text transform="translate(264.25,145.81) rotate(-90) scale(1.118,1)" font-size="14.51"><tspan>CD11c</tspan></text>
<text transform="translate(264.25,300.49) rotate(-90) scale(1.087,1)" font-size="14.51"><tspan>CD11c</tspan></text>
<text transform="translate(275.23,165.25) scale(1.065,1)" font-size="14.93" fill="#000">MHCII</text>
<text transform="translate(274.90,321.85) scale(1.101,1)" font-size="14.79" fill="#000">MHCII</text>
<line x1="260.30" y1="31.50" x2="260.30" y2="93.00" stroke="#000" stroke-width="1.4"/>
<path d="M260.30,27.50L257.50,34.30L263.10,34.30Z" fill="#000"/>
<line x1="260.30" y1="188.90" x2="260.30" y2="249.30" stroke="#000" stroke-width="1.4"/>
<path d="M260.30,184.90L257.50,191.70L263.10,191.70Z" fill="#000"/>
<line x1="329.00" y1="160.80" x2="511.00" y2="160.80" stroke="#000" stroke-width="1.4"/>
<path d="M515.00,160.80L507.40,158.00L507.40,163.60Z" fill="#000"/>
<line x1="330.80" y1="316.40" x2="512.00" y2="316.40" stroke="#000" stroke-width="1.4"/>
<path d="M516.00,316.40L508.40,313.60L508.40,319.20Z" fill="#000"/>
<g clip-path="url(#cp1)"><g filter="url(#fl1)"><rect x="269.8" y="22.6" width="126.59999999999997" height="126.20000000000002" fill="rgb(0,0,0)"/>
<rect x="340" y="27" width="55" height="123" fill="url(#lg1)" filter="url(#b8)"/>
<path d="M270.0,20.0 L366.0,20.0 L368.0,70.0 L360.0,90.0 L351.0,100.0 L348.5,150.0 L270.0,150.0Z" fill="url(#lg2)" filter="url(#b8)"/>
<ellipse cx="322" cy="82" rx="26" ry="11" fill="rgb(31,31,31)" filter="url(#b6)" transform="rotate(-12 322 82)"/>
<path d="M318.8,60.6 L333.4,42.5 L349.5,43.0 L348.5,54.3 L345.8,62.4 L342.2,67.2 L324.8,68.5Z" fill="rgb(34,34,34)" filter="url(#b5)"/>
<path d="M350.6,42.7 L363.3,47.0 L359.4,87.2 L349.0,88.6 L342.9,79.6 L340.7,70.2 L345.2,63.5 L348.5,54.3Z" fill="rgb(43,43,43)" filter="url(#b5)"/>
<ellipse cx="353" cy="66" rx="4" ry="12" fill="rgb(51,51,51)" filter="url(#b4)" transform="rotate(-5 353 66)"/>
<ellipse cx="343" cy="80" rx="6" ry="9" fill="rgb(51,51,51)" filter="url(#b4)"/>
<rect x="259" y="104" width="85.5" height="70" rx="8" fill="rgb(74,74,74)" filter="url(#b5)"/>
<rect x="259" y="111.5" width="79.5" height="36.30000000000001" rx="17" fill="rgb(184,184,184)" filter="url(#b4)"/>
<rect x="259" y="136.5" width="76.5" height="11.300000000000011" rx="10.2" fill="rgb(133,133,133)" filter="url(#b4)"/>
<ellipse cx="327.3" cy="126" rx="8" ry="13" fill="rgb(194,194,194)" filter="url(#b5)"/>
<ellipse cx="327.3" cy="127" rx="3.8" ry="7.4" fill="rgb(250,250,250)" filter="url(#b3)"/>
</g></g>
<path d="M318.8,60.6 L333.4,42.5 L349.5,43.0 L348.5,54.3 L345.8,62.4 L342.2,67.2 L324.8,68.5Z" fill="none" stroke="#000" stroke-width="1.6" stroke-linejoin="round"/>
<path d="M350.6,42.7 L363.3,47.0 L359.4,87.2 L349.0,88.6 L342.9,79.6 L340.7,70.2 L345.2,63.5 L348.5,54.3Z" fill="none" stroke="#000" stroke-width="1.6" stroke-linejoin="round"/>
<rect x="274.8" y="27.6" width="116.60" height="116.20" fill="none" stroke="#000" stroke-width="1.4"/>
<line x1="271.80" y1="38.50" x2="274.80" y2="38.50" stroke="#000" stroke-width="1.1"/>
<line x1="273.20" y1="57.16" x2="274.80" y2="57.16" stroke="#000" stroke-width="0.9"/>
<line x1="273.20" y1="52.46" x2="274.80" y2="52.46" stroke="#000" stroke-width="0.9"/>
<line x1="273.20" y1="49.12" x2="274.80" y2="49.12" stroke="#000" stroke-width="0.9"/>
<line x1="273.20" y1="46.54" x2="274.80" y2="46.54" stroke="#000" stroke-width="0.9"/>
<line x1="273.20" y1="44.42" x2="274.80" y2="44.42" stroke="#000" stroke-width="0.9"/>
<line x1="273.20" y1="42.64" x2="274.80" y2="42.64" stroke="#000" stroke-width="0.9"/>
<line x1="273.20" y1="41.09" x2="274.80" y2="41.09" stroke="#000" stroke-width="0.9"/>
<line x1="273.20" y1="39.72" x2="274.80" y2="39.72" stroke="#000" stroke-width="0.9"/>
<line x1="271.80" y1="65.20" x2="274.80" y2="65.20" stroke="#000" stroke-width="1.1"/>
<line x1="273.20" y1="83.86" x2="274.80" y2="83.86" stroke="#000" stroke-width="0.9"/>
<line x1="273.20" y1="79.16" x2="274.80" y2="79.16" stroke="#000" stroke-width="0.9"/>
<line x1="273.20" y1="75.82" x2="274.80" y2="75.82" stroke="#000" stroke-width="0.9"/>
<line x1="273.20" y1="73.24" x2="274.80" y2="73.24" stroke="#000" stroke-width="0.9"/>
<line x1="273.20" y1="71.12" x2="274.80" y2="71.12" stroke="#000" stroke-width="0.9"/>
<line x1="273.20" y1="69.34" x2="274.80" y2="69.34" stroke="#000" stroke-width="0.9"/>
<line x1="273.20" y1="67.79" x2="274.80" y2="67.79" stroke="#000" stroke-width="0.9"/>
<line x1="273.20" y1="66.42" x2="274.80" y2="66.42" stroke="#000" stroke-width="0.9"/>
<line x1="271.80" y1="91.90" x2="274.80" y2="91.90" stroke="#000" stroke-width="1.1"/>
<line x1="273.20" y1="110.56" x2="274.80" y2="110.56" stroke="#000" stroke-width="0.9"/>
<line x1="273.20" y1="105.86" x2="274.80" y2="105.86" stroke="#000" stroke-width="0.9"/>
<line x1="273.20" y1="102.52" x2="274.80" y2="102.52" stroke="#000" stroke-width="0.9"/>
<line x1="273.20" y1="99.94" x2="274.80" y2="99.94" stroke="#000" stroke-width="0.9"/>
<line x1="273.20" y1="97.82" x2="274.80" y2="97.82" stroke="#000" stroke-width="0.9"/>
<line x1="273.20" y1="96.04" x2="274.80" y2="96.04" stroke="#000" stroke-width="0.9"/>
<line x1="273.20" y1="94.49" x2="274.80" y2="94.49" stroke="#000" stroke-width="0.9"/>
<line x1="273.20" y1="93.12" x2="274.80" y2="93.12" stroke="#000" stroke-width="0.9"/>
<line x1="271.80" y1="118.60" x2="274.80" y2="118.60" stroke="#000" stroke-width="1.1"/>
<line x1="271.80" y1="132.10" x2="274.80" y2="132.10" stroke="#000" stroke-width="1.1"/>
<line x1="273.20" y1="125.60" x2="274.80" y2="125.60" stroke="#000" stroke-width="0.9"/>
<line x1="273.20" y1="138.10" x2="274.80" y2="138.10" stroke="#000" stroke-width="0.9"/>
<line x1="273.20" y1="141.10" x2="274.80" y2="141.10" stroke="#000" stroke-width="0.9"/>
<line x1="285.80" y1="143.80" x2="285.80" y2="146.80" stroke="#000" stroke-width="1.1"/>
<line x1="298.80" y1="143.80" x2="298.80" y2="146.80" stroke="#000" stroke-width="1.1"/>
<line x1="306.93" y1="143.80" x2="306.93" y2="145.40" stroke="#000" stroke-width="0.9"/>
<line x1="311.68" y1="143.80" x2="311.68" y2="145.40" stroke="#000" stroke-width="0.9"/>
<line x1="315.06" y1="143.80" x2="315.06" y2="145.40" stroke="#000" stroke-width="0.9"/>
<line x1="317.67" y1="143.80" x2="317.67" y2="145.40" stroke="#000" stroke-width="0.9"/>
<line x1="319.81" y1="143.80" x2="319.81" y2="145.40" stroke="#000" stroke-width="0.9"/>
<line x1="321.62" y1="143.80" x2="321.62" y2="145.40" stroke="#000" stroke-width="0.9"/>
<line x1="323.18" y1="143.80" x2="323.18" y2="145.40" stroke="#000" stroke-width="0.9"/>
<line x1="324.56" y1="143.80" x2="324.56" y2="145.40" stroke="#000" stroke-width="0.9"/>
<line x1="325.80" y1="143.80" x2="325.80" y2="146.80" stroke="#000" stroke-width="1.1"/>
<line x1="333.93" y1="143.80" x2="333.93" y2="145.40" stroke="#000" stroke-width="0.9"/>
<line x1="338.68" y1="143.80" x2="338.68" y2="145.40" stroke="#000" stroke-width="0.9"/>
<line x1="342.06" y1="143.80" x2="342.06" y2="145.40" stroke="#000" stroke-width="0.9"/>
<line x1="344.67" y1="143.80" x2="344.67" y2="145.40" stroke="#000" stroke-width="0.9"/>
<line x1="346.81" y1="143.80" x2="346.81" y2="145.40" stroke="#000" stroke-width="0.9"/>
<line x1="348.62" y1="143.80" x2="348.62" y2="145.40" stroke="#000" stroke-width="0.9"/>
<line x1="350.18" y1="143.80" x2="350.18" y2="145.40" stroke="#000" stroke-width="0.9"/>
<line x1="351.56" y1="143.80" x2="351.56" y2="145.40" stroke="#000" stroke-width="0.9"/>
<line x1="352.80" y1="143.80" x2="352.80" y2="146.80" stroke="#000" stroke-width="1.1"/>
<line x1="360.93" y1="143.80" x2="360.93" y2="145.40" stroke="#000" stroke-width="0.9"/>
<line x1="365.68" y1="143.80" x2="365.68" y2="145.40" stroke="#000" stroke-width="0.9"/>
<line x1="369.06" y1="143.80" x2="369.06" y2="145.40" stroke="#000" stroke-width="0.9"/>
<line x1="371.67" y1="143.80" x2="371.67" y2="145.40" stroke="#000" stroke-width="0.9"/>
<line x1="373.81" y1="143.80" x2="373.81" y2="145.40" stroke="#000" stroke-width="0.9"/>
<line x1="375.62" y1="143.80" x2="375.62" y2="145.40" stroke="#000" stroke-width="0.9"/>
<line x1="377.18" y1="143.80" x2="377.18" y2="145.40" stroke="#000" stroke-width="0.9"/>
<line x1="378.56" y1="143.80" x2="378.56" y2="145.40" stroke="#000" stroke-width="0.9"/>
<line x1="379.80" y1="143.80" x2="379.80" y2="146.80" stroke="#000" stroke-width="1.1"/>
<line x1="278.30" y1="143.80" x2="278.30" y2="145.40" stroke="#000" stroke-width="0.9"/>
<line x1="282.30" y1="143.80" x2="282.30" y2="145.40" stroke="#000" stroke-width="0.9"/>
<line x1="289.80" y1="143.80" x2="289.80" y2="145.40" stroke="#000" stroke-width="0.9"/>
<line x1="293.80" y1="143.80" x2="293.80" y2="145.40" stroke="#000" stroke-width="0.9"/>
<text transform="translate(298.35,41.96) scale(0.992,1)" font-size="13.94" font-weight="bold" fill="#000">0.70</text>
<text transform="translate(362.71,41.56) scale(0.988,1)" font-size="13.80" font-weight="bold" fill="#000">1.90</text>
<g clip-path="url(#cp2)"><g filter="url(#fl2)"><rect x="394.9" y="22.6" width="126.5" height="126.20000000000002" fill="rgb(0,0,0)"/>
<rect x="465.1" y="27" width="55" height="123" fill="url(#lg3)" filter="url(#b8)"/>
<path d="M395.1,20.0 L491.1,20.0 L493.1,70.0 L485.1,90.0 L476.1,100.0 L473.6,150.0 L395.1,150.0Z" fill="url(#lg4)" filter="url(#b8)"/>
<ellipse cx="449.1" cy="82" rx="26" ry="11" fill="rgb(28,28,28)" filter="url(#b6)" transform="rotate(-12 449.1 82)"/>
<path d="M448.6,60.6 L463.2,41.6 L480.4,42.2 L478.2,55.4 L474.5,61.8 L471.2,66.2 L454.5,68.3Z" fill="rgb(31,31,31)" filter="url(#b5)"/>
<path d="M480.4,42.2 L492.8,46.2 L493.5,47.3 L489.5,86.6 L478.8,89.0 L472.3,79.1 L470.7,68.3 L474.5,61.8 L478.2,55.4Z" fill="rgb(33,33,33)" filter="url(#b5)"/>
<ellipse cx="483" cy="64" rx="5" ry="12" fill="rgb(41,41,41)" filter="url(#b4)" transform="rotate(-5 483 64)"/>
<ellipse cx="469.1" cy="80" rx="6" ry="9" fill="rgb(43,43,43)" filter="url(#b4)"/>
<rect x="384.1" y="104" width="85.5" height="70" rx="8" fill="rgb(74,74,74)" filter="url(#b5)"/>
<rect x="384.1" y="111.5" width="79.5" height="36.30000000000001" rx="17" fill="rgb(184,184,184)" filter="url(#b4)"/>
<rect x="384.1" y="136.5" width="76.5" height="11.300000000000011" rx="10.2" fill="rgb(133,133,133)" filter="url(#b4)"/>
<ellipse cx="452.4" cy="126" rx="8" ry="13" fill="rgb(194,194,194)" filter="url(#b5)"/>
<ellipse cx="452.4" cy="127" rx="3.8" ry="7.4" fill="rgb(250,250,250)" filter="url(#b3)"/>
</g></g>
<path d="M448.6,60.6 L463.2,41.6 L480.4,42.2 L478.2,55.4 L474.5,61.8 L471.2,66.2 L454.5,68.3Z" fill="none" stroke="#000" stroke-width="1.6" stroke-linejoin="round"/>
<path d="M480.4,42.2 L492.8,46.2 L493.5,47.3 L489.5,86.6 L478.8,89.0 L472.3,79.1 L470.7,68.3 L474.5,61.8 L478.2,55.4Z" fill="none" stroke="#000" stroke-width="1.6" stroke-linejoin="round"/>
<rect x="399.9" y="27.6" width="116.50" height="116.20" fill="none" stroke="#000" stroke-width="1.4"/>
<line x1="396.90" y1="38.50" x2="399.90" y2="38.50" stroke="#000" stroke-width="1.1"/>
<line x1="398.30" y1="57.16" x2="399.90" y2="57.16" stroke="#000" stroke-width="0.9"/>
<line x1="398.30" y1="52.46" x2="399.90" y2="52.46" stroke="#000" stroke-width="0.9"/>
<line x1="398.30" y1="49.12" x2="399.90" y2="49.12" stroke="#000" stroke-width="0.9"/>
<line x1="398.30" y1="46.54" x2="399.90" y2="46.54" stroke="#000" stroke-width="0.9"/>
<line x1="398.30" y1="44.42" x2="399.90" y2="44.42" stroke="#000" stroke-width="0.9"/>
<line x1="398.30" y1="42.64" x2="399.90" y2="42.64" stroke="#000" stroke-width="0.9"/>
<line x1="398.30" y1="41.09" x2="399.90" y2="41.09" stroke="#000" stroke-width="0.9"/>
<line x1="398.30" y1="39.72" x2="399.90" y2="39.72" stroke="#000" stroke-width="0.9"/>
<line x1="396.90" y1="65.20" x2="399.90" y2="65.20" stroke="#000" stroke-width="1.1"/>
<line x1="398.30" y1="83.86" x2="399.90" y2="83.86" stroke="#000" stroke-width="0.9"/>
<line x1="398.30" y1="79.16" x2="399.90" y2="79.16" stroke="#000" stroke-width="0.9"/>
<line x1="398.30" y1="75.82" x2="399.90" y2="75.82" stroke="#000" stroke-width="0.9"/>
<line x1="398.30" y1="73.24" x2="399.90" y2="73.24" stroke="#000" stroke-width="0.9"/>
<line x1="398.30" y1="71.12" x2="399.90" y2="71.12" stroke="#000" stroke-width="0.9"/>
<line x1="398.30" y1="69.34" x2="399.90" y2="69.34" stroke="#000" stroke-width="0.9"/>
<line x1="398.30" y1="67.79" x2="399.90" y2="67.79" stroke="#000" stroke-width="0.9"/>
<line x1="398.30" y1="66.42" x2="399.90" y2="66.42" stroke="#000" stroke-width="0.9"/>
<line x1="396.90" y1="91.90" x2="399.90" y2="91.90" stroke="#000" stroke-width="1.1"/>
<line x1="398.30" y1="110.56" x2="399.90" y2="110.56" stroke="#000" stroke-width="0.9"/>
<line x1="398.30" y1="105.86" x2="399.90" y2="105.86" stroke="#000" stroke-width="0.9"/>
<line x1="398.30" y1="102.52" x2="399.90" y2="102.52" stroke="#000" stroke-width="0.9"/>
<line x1="398.30" y1="99.94" x2="399.90" y2="99.94" stroke="#000" stroke-width="0.9"/>
<line x1="398.30" y1="97.82" x2="399.90" y2="97.82" stroke="#000" stroke-width="0.9"/>
<line x1="398.30" y1="96.04" x2="399.90" y2="96.04" stroke="#000" stroke-width="0.9"/>
<line x1="398.30" y1="94.49" x2="399.90" y2="94.49" stroke="#000" stroke-width="0.9"/>
<line x1="398.30" y1="93.12" x2="399.90" y2="93.12" stroke="#000" stroke-width="0.9"/>
<line x1="396.90" y1="118.60" x2="399.90" y2="118.60" stroke="#000" stroke-width="1.1"/>
<line x1="396.90" y1="132.10" x2="399.90" y2="132.10" stroke="#000" stroke-width="1.1"/>
<line x1="398.30" y1="125.60" x2="399.90" y2="125.60" stroke="#000" stroke-width="0.9"/>
<line x1="398.30" y1="138.10" x2="399.90" y2="138.10" stroke="#000" stroke-width="0.9"/>
<line x1="398.30" y1="141.10" x2="399.90" y2="141.10" stroke="#000" stroke-width="0.9"/>
<line x1="410.90" y1="143.80" x2="410.90" y2="146.80" stroke="#000" stroke-width="1.1"/>
<line x1="423.90" y1="143.80" x2="423.90" y2="146.80" stroke="#000" stroke-width="1.1"/>
<line x1="432.03" y1="143.80" x2="432.03" y2="145.40" stroke="#000" stroke-width="0.9"/>
<line x1="436.78" y1="143.80" x2="436.78" y2="145.40" stroke="#000" stroke-width="0.9"/>
<line x1="440.16" y1="143.80" x2="440.16" y2="145.40" stroke="#000" stroke-width="0.9"/>
<line x1="442.77" y1="143.80" x2="442.77" y2="145.40" stroke="#000" stroke-width="0.9"/>
<line x1="444.91" y1="143.80" x2="444.91" y2="145.40" stroke="#000" stroke-width="0.9"/>
<line x1="446.72" y1="143.80" x2="446.72" y2="145.40" stroke="#000" stroke-width="0.9"/>
<line x1="448.28" y1="143.80" x2="448.28" y2="145.40" stroke="#000" stroke-width="0.9"/>
<line x1="449.66" y1="143.80" x2="449.66" y2="145.40" stroke="#000" stroke-width="0.9"/>
<line x1="450.90" y1="143.80" x2="450.90" y2="146.80" stroke="#000" stroke-width="1.1"/>
<line x1="459.03" y1="143.80" x2="459.03" y2="145.40" stroke="#000" stroke-width="0.9"/>
<line x1="463.78" y1="143.80" x2="463.78" y2="145.40" stroke="#000" stroke-width="0.9"/>
<line x1="467.16" y1="143.80" x2="467.16" y2="145.40" stroke="#000" stroke-width="0.9"/>
<line x1="469.77" y1="143.80" x2="469.77" y2="145.40" stroke="#000" stroke-width="0.9"/>
<line x1="471.91" y1="143.80" x2="471.91" y2="145.40" stroke="#000" stroke-width="0.9"/>
<line x1="473.72" y1="143.80" x2="473.72" y2="145.40" stroke="#000" stroke-width="0.9"/>
<line x1="475.28" y1="143.80" x2="475.28" y2="145.40" stroke="#000" stroke-width="0.9"/>
<line x1="476.66" y1="143.80" x2="476.66" y2="145.40" stroke="#000" stroke-width="0.9"/>
<line x1="477.90" y1="143.80" x2="477.90" y2="146.80" stroke="#000" stroke-width="1.1"/>
<line x1="486.03" y1="143.80" x2="486.03" y2="145.40" stroke="#000" stroke-width="0.9"/>
<line x1="490.78" y1="143.80" x2="490.78" y2="145.40" stroke="#000" stroke-width="0.9"/>
<line x1="494.16" y1="143.80" x2="494.16" y2="145.40" stroke="#000" stroke-width="0.9"/>
<line x1="496.77" y1="143.80" x2="496.77" y2="145.40" stroke="#000" stroke-width="0.9"/>
<line x1="498.91" y1="143.80" x2="498.91" y2="145.40" stroke="#000" stroke-width="0.9"/>
<line x1="500.72" y1="143.80" x2="500.72" y2="145.40" stroke="#000" stroke-width="0.9"/>
<line x1="502.28" y1="143.80" x2="502.28" y2="145.40" stroke="#000" stroke-width="0.9"/>
<line x1="503.66" y1="143.80" x2="503.66" y2="145.40" stroke="#000" stroke-width="0.9"/>
<line x1="504.90" y1="143.80" x2="504.90" y2="146.80" stroke="#000" stroke-width="1.1"/>
<line x1="403.40" y1="143.80" x2="403.40" y2="145.40" stroke="#000" stroke-width="0.9"/>
<line x1="407.40" y1="143.80" x2="407.40" y2="145.40" stroke="#000" stroke-width="0.9"/>
<line x1="414.90" y1="143.80" x2="414.90" y2="145.40" stroke="#000" stroke-width="0.9"/>
<line x1="418.90" y1="143.80" x2="418.90" y2="145.40" stroke="#000" stroke-width="0.9"/>
<text transform="translate(432.55,41.77) scale(1.063,1)" font-size="12.96" font-weight="bold" fill="#000">0.60</text>
<text transform="translate(487.67,41.77) scale(1.028,1)" font-size="12.96" font-weight="bold" fill="#000">0.69</text>
<g clip-path="url(#cp3)"><g filter="url(#fl3)"><rect x="269.9" y="178.6" width="126.5" height="125.9" fill="rgb(0,0,0)"/>
<rect x="346" y="183" width="49" height="122" fill="url(#lg5)" filter="url(#b8)"/>
<path d="M270.0,170.0 L310.0,170.0 L325.0,196.0 L350.0,197.0 L354.0,212.0 L349.0,232.0 L348.0,255.0 L349.0,305.0 L270.0,305.0Z" fill="url(#lg6)" filter="url(#b8)"/>
<path d="M306.2,218.1 L316.7,206.8 L321.5,204.6 L328.5,203.3 L346.5,203.3 L344.2,215.4 L342.5,220.2 L336.6,227.2 L319.9,229.4Z" fill="rgb(43,43,43)" filter="url(#b5)"/>
<ellipse cx="330" cy="216" rx="11" ry="7" fill="rgb(51,51,51)" filter="url(#b4)" transform="rotate(-8 330 216)"/>
<rect x="259" y="259" width="87.5" height="70" rx="8" fill="rgb(69,69,69)" filter="url(#b5)"/>
<rect x="259" y="267.5" width="82.5" height="36.0" rx="17" fill="rgb(184,184,184)" filter="url(#b4)"/>
<rect x="259" y="292" width="79.5" height="11.5" rx="10.2" fill="rgb(133,133,133)" filter="url(#b4)"/>
<ellipse cx="328.5" cy="280.4" rx="8" ry="13" fill="rgb(194,194,194)" filter="url(#b5)"/>
<ellipse cx="328.5" cy="281.4" rx="3.8" ry="7.4" fill="rgb(255,255,255)" filter="url(#b3)"/>
</g></g>
<path d="M306.2,218.1 L316.7,206.8 L321.5,204.6 L328.5,203.3 L346.5,203.3 L344.2,215.4 L342.5,220.2 L336.6,227.2 L319.9,229.4Z" fill="none" stroke="#000" stroke-width="1.6" stroke-linejoin="round"/>
<rect x="274.9" y="183.6" width="116.50" height="115.90" fill="none" stroke="#000" stroke-width="1.4"/>
<line x1="271.90" y1="194.50" x2="274.90" y2="194.50" stroke="#000" stroke-width="1.1"/>
<line x1="273.30" y1="213.16" x2="274.90" y2="213.16" stroke="#000" stroke-width="0.9"/>
<line x1="273.30" y1="208.46" x2="274.90" y2="208.46" stroke="#000" stroke-width="0.9"/>
<line x1="273.30" y1="205.12" x2="274.90" y2="205.12" stroke="#000" stroke-width="0.9"/>
<line x1="273.30" y1="202.54" x2="274.90" y2="202.54" stroke="#000" stroke-width="0.9"/>
<line x1="273.30" y1="200.42" x2="274.90" y2="200.42" stroke="#000" stroke-width="0.9"/>
<line x1="273.30" y1="198.64" x2="274.90" y2="198.64" stroke="#000" stroke-width="0.9"/>
<line x1="273.30" y1="197.09" x2="274.90" y2="197.09" stroke="#000" stroke-width="0.9"/>
<line x1="273.30" y1="195.72" x2="274.90" y2="195.72" stroke="#000" stroke-width="0.9"/>
<line x1="271.90" y1="221.20" x2="274.90" y2="221.20" stroke="#000" stroke-width="1.1"/>
<line x1="273.30" y1="239.86" x2="274.90" y2="239.86" stroke="#000" stroke-width="0.9"/>
<line x1="273.30" y1="235.16" x2="274.90" y2="235.16" stroke="#000" stroke-width="0.9"/>
<line x1="273.30" y1="231.82" x2="274.90" y2="231.82" stroke="#000" stroke-width="0.9"/>
<line x1="273.30" y1="229.24" x2="274.90" y2="229.24" stroke="#000" stroke-width="0.9"/>
<line x1="273.30" y1="227.12" x2="274.90" y2="227.12" stroke="#000" stroke-width="0.9"/>
<line x1="273.30" y1="225.34" x2="274.90" y2="225.34" stroke="#000" stroke-width="0.9"/>
<line x1="273.30" y1="223.79" x2="274.90" y2="223.79" stroke="#000" stroke-width="0.9"/>
<line x1="273.30" y1="222.42" x2="274.90" y2="222.42" stroke="#000" stroke-width="0.9"/>
<line x1="271.90" y1="247.90" x2="274.90" y2="247.90" stroke="#000" stroke-width="1.1"/>
<line x1="273.30" y1="266.56" x2="274.90" y2="266.56" stroke="#000" stroke-width="0.9"/>
<line x1="273.30" y1="261.86" x2="274.90" y2="261.86" stroke="#000" stroke-width="0.9"/>
<line x1="273.30" y1="258.52" x2="274.90" y2="258.52" stroke="#000" stroke-width="0.9"/>
<line x1="273.30" y1="255.94" x2="274.90" y2="255.94" stroke="#000" stroke-width="0.9"/>
<line x1="273.30" y1="253.82" x2="274.90" y2="253.82" stroke="#000" stroke-width="0.9"/>
<line x1="273.30" y1="252.04" x2="274.90" y2="252.04" stroke="#000" stroke-width="0.9"/>
<line x1="273.30" y1="250.49" x2="274.90" y2="250.49" stroke="#000" stroke-width="0.9"/>
<line x1="273.30" y1="249.12" x2="274.90" y2="249.12" stroke="#000" stroke-width="0.9"/>
<line x1="271.90" y1="274.60" x2="274.90" y2="274.60" stroke="#000" stroke-width="1.1"/>
<line x1="271.90" y1="288.10" x2="274.90" y2="288.10" stroke="#000" stroke-width="1.1"/>
<line x1="273.30" y1="281.60" x2="274.90" y2="281.60" stroke="#000" stroke-width="0.9"/>
<line x1="273.30" y1="294.10" x2="274.90" y2="294.10" stroke="#000" stroke-width="0.9"/>
<line x1="273.30" y1="297.10" x2="274.90" y2="297.10" stroke="#000" stroke-width="0.9"/>
<line x1="285.90" y1="299.50" x2="285.90" y2="302.50" stroke="#000" stroke-width="1.1"/>
<line x1="298.90" y1="299.50" x2="298.90" y2="302.50" stroke="#000" stroke-width="1.1"/>
<line x1="307.03" y1="299.50" x2="307.03" y2="301.10" stroke="#000" stroke-width="0.9"/>
<line x1="311.78" y1="299.50" x2="311.78" y2="301.10" stroke="#000" stroke-width="0.9"/>
<line x1="315.16" y1="299.50" x2="315.16" y2="301.10" stroke="#000" stroke-width="0.9"/>
<line x1="317.77" y1="299.50" x2="317.77" y2="301.10" stroke="#000" stroke-width="0.9"/>
<line x1="319.91" y1="299.50" x2="319.91" y2="301.10" stroke="#000" stroke-width="0.9"/>
<line x1="321.72" y1="299.50" x2="321.72" y2="301.10" stroke="#000" stroke-width="0.9"/>
<line x1="323.28" y1="299.50" x2="323.28" y2="301.10" stroke="#000" stroke-width="0.9"/>
<line x1="324.66" y1="299.50" x2="324.66" y2="301.10" stroke="#000" stroke-width="0.9"/>
<line x1="325.90" y1="299.50" x2="325.90" y2="302.50" stroke="#000" stroke-width="1.1"/>
<line x1="334.03" y1="299.50" x2="334.03" y2="301.10" stroke="#000" stroke-width="0.9"/>
<line x1="338.78" y1="299.50" x2="338.78" y2="301.10" stroke="#000" stroke-width="0.9"/>
<line x1="342.16" y1="299.50" x2="342.16" y2="301.10" stroke="#000" stroke-width="0.9"/>
<line x1="344.77" y1="299.50" x2="344.77" y2="301.10" stroke="#000" stroke-width="0.9"/>
<line x1="346.91" y1="299.50" x2="346.91" y2="301.10" stroke="#000" stroke-width="0.9"/>
<line x1="348.72" y1="299.50" x2="348.72" y2="301.10" stroke="#000" stroke-width="0.9"/>
<line x1="350.28" y1="299.50" x2="350.28" y2="301.10" stroke="#000" stroke-width="0.9"/>
<line x1="351.66" y1="299.50" x2="351.66" y2="301.10" stroke="#000" stroke-width="0.9"/>
<line x1="352.90" y1="299.50" x2="352.90" y2="302.50" stroke="#000" stroke-width="1.1"/>
<line x1="361.03" y1="299.50" x2="361.03" y2="301.10" stroke="#000" stroke-width="0.9"/>
<line x1="365.78" y1="299.50" x2="365.78" y2="301.10" stroke="#000" stroke-width="0.9"/>
<line x1="369.16" y1="299.50" x2="369.16" y2="301.10" stroke="#000" stroke-width="0.9"/>
<line x1="371.77" y1="299.50" x2="371.77" y2="301.10" stroke="#000" stroke-width="0.9"/>
<line x1="373.91" y1="299.50" x2="373.91" y2="301.10" stroke="#000" stroke-width="0.9"/>
<line x1="375.72" y1="299.50" x2="375.72" y2="301.10" stroke="#000" stroke-width="0.9"/>
<line x1="377.28" y1="299.50" x2="377.28" y2="301.10" stroke="#000" stroke-width="0.9"/>
<line x1="378.66" y1="299.50" x2="378.66" y2="301.10" stroke="#000" stroke-width="0.9"/>
<line x1="379.90" y1="299.50" x2="379.90" y2="302.50" stroke="#000" stroke-width="1.1"/>
<line x1="278.40" y1="299.50" x2="278.40" y2="301.10" stroke="#000" stroke-width="0.9"/>
<line x1="282.40" y1="299.50" x2="282.40" y2="301.10" stroke="#000" stroke-width="0.9"/>
<line x1="289.90" y1="299.50" x2="289.90" y2="301.10" stroke="#000" stroke-width="0.9"/>
<line x1="293.90" y1="299.50" x2="293.90" y2="301.10" stroke="#000" stroke-width="0.9"/>
<text transform="translate(299.72,198.17) scale(1.034,1)" font-size="13.38" font-weight="bold" fill="#000">2.08</text>
<g clip-path="url(#cp4)"><g filter="url(#fl4)"><rect x="394.6" y="178.6" width="126.89999999999998" height="125.9" fill="rgb(0,0,0)"/>
<rect x="470.7" y="183" width="49" height="122" fill="url(#lg7)" filter="url(#b8)"/>
<path d="M394.7,170.0 L434.7,170.0 L449.7,196.0 L474.7,197.0 L478.7,212.0 L473.7,232.0 L472.7,255.0 L473.7,305.0 L394.7,305.0Z" fill="url(#lg8)" filter="url(#b8)"/>
<path d="M434.5,217.0 L445.2,206.2 L456.5,202.2 L474.5,202.2 L473.2,211.1 L470.5,221.3 L464.1,226.7 L447.9,228.8Z" fill="rgb(38,38,38)" filter="url(#b5)"/>
<ellipse cx="459" cy="214" rx="10" ry="6" fill="rgb(46,46,46)" filter="url(#b4)" transform="rotate(-8 459 214)"/>
<rect x="383.7" y="259" width="87.5" height="70" rx="8" fill="rgb(69,69,69)" filter="url(#b5)"/>
<rect x="383.7" y="267.5" width="82.5" height="36.0" rx="17" fill="rgb(184,184,184)" filter="url(#b4)"/>
<rect x="383.7" y="292" width="79.5" height="11.5" rx="10.2" fill="rgb(133,133,133)" filter="url(#b4)"/>
<ellipse cx="452.4" cy="279.2" rx="8" ry="13" fill="rgb(194,194,194)" filter="url(#b5)"/>
<ellipse cx="452.4" cy="280.2" rx="3.8" ry="7.4" fill="rgb(255,255,255)" filter="url(#b3)"/>
</g></g>
<path d="M434.5,217.0 L445.2,206.2 L456.5,202.2 L474.5,202.2 L473.2,211.1 L470.5,221.3 L464.1,226.7 L447.9,228.8Z" fill="none" stroke="#000" stroke-width="1.6" stroke-linejoin="round"/>
<rect x="399.6" y="183.6" width="116.90" height="115.90" fill="none" stroke="#000" stroke-width="1.4"/>
<line x1="396.60" y1="194.50" x2="399.60" y2="194.50" stroke="#000" stroke-width="1.1"/>
<line x1="398.00" y1="213.16" x2="399.60" y2="213.16" stroke="#000" stroke-width="0.9"/>
<line x1="398.00" y1="208.46" x2="399.60" y2="208.46" stroke="#000" stroke-width="0.9"/>
<line x1="398.00" y1="205.12" x2="399.60" y2="205.12" stroke="#000" stroke-width="0.9"/>
<line x1="398.00" y1="202.54" x2="399.60" y2="202.54" stroke="#000" stroke-width="0.9"/>
<line x1="398.00" y1="200.42" x2="399.60" y2="200.42" stroke="#000" stroke-width="0.9"/>
<line x1="398.00" y1="198.64" x2="399.60" y2="198.64" stroke="#000" stroke-width="0.9"/>
<line x1="398.00" y1="197.09" x2="399.60" y2="197.09" stroke="#000" stroke-width="0.9"/>
<line x1="398.00" y1="195.72" x2="399.60" y2="195.72" stroke="#000" stroke-width="0.9"/>
<line x1="396.60" y1="221.20" x2="399.60" y2="221.20" stroke="#000" stroke-width="1.1"/>
<line x1="398.00" y1="239.86" x2="399.60" y2="239.86" stroke="#000" stroke-width="0.9"/>
<line x1="398.00" y1="235.16" x2="399.60" y2="235.16" stroke="#000" stroke-width="0.9"/>
<line x1="398.00" y1="231.82" x2="399.60" y2="231.82" stroke="#000" stroke-width="0.9"/>
<line x1="398.00" y1="229.24" x2="399.60" y2="229.24" stroke="#000" stroke-width="0.9"/>
<line x1="398.00" y1="227.12" x2="399.60" y2="227.12" stroke="#000" stroke-width="0.9"/>
<line x1="398.00" y1="225.34" x2="399.60" y2="225.34" stroke="#000" stroke-width="0.9"/>
<line x1="398.00" y1="223.79" x2="399.60" y2="223.79" stroke="#000" stroke-width="0.9"/>
<line x1="398.00" y1="222.42" x2="399.60" y2="222.42" stroke="#000" stroke-width="0.9"/>
<line x1="396.60" y1="247.90" x2="399.60" y2="247.90" stroke="#000" stroke-width="1.1"/>
<line x1="398.00" y1="266.56" x2="399.60" y2="266.56" stroke="#000" stroke-width="0.9"/>
<line x1="398.00" y1="261.86" x2="399.60" y2="261.86" stroke="#000" stroke-width="0.9"/>
<line x1="398.00" y1="258.52" x2="399.60" y2="258.52" stroke="#000" stroke-width="0.9"/>
<line x1="398.00" y1="255.94" x2="399.60" y2="255.94" stroke="#000" stroke-width="0.9"/>
<line x1="398.00" y1="253.82" x2="399.60" y2="253.82" stroke="#000" stroke-width="0.9"/>
<line x1="398.00" y1="252.04" x2="399.60" y2="252.04" stroke="#000" stroke-width="0.9"/>
<line x1="398.00" y1="250.49" x2="399.60" y2="250.49" stroke="#000" stroke-width="0.9"/>
<line x1="398.00" y1="249.12" x2="399.60" y2="249.12" stroke="#000" stroke-width="0.9"/>
<line x1="396.60" y1="274.60" x2="399.60" y2="274.60" stroke="#000" stroke-width="1.1"/>
<line x1="396.60" y1="288.10" x2="399.60" y2="288.10" stroke="#000" stroke-width="1.1"/>
<line x1="398.00" y1="281.60" x2="399.60" y2="281.60" stroke="#000" stroke-width="0.9"/>
<line x1="398.00" y1="294.10" x2="399.60" y2="294.10" stroke="#000" stroke-width="0.9"/>
<line x1="398.00" y1="297.10" x2="399.60" y2="297.10" stroke="#000" stroke-width="0.9"/>
<line x1="410.60" y1="299.50" x2="410.60" y2="302.50" stroke="#000" stroke-width="1.1"/>
<line x1="423.60" y1="299.50" x2="423.60" y2="302.50" stroke="#000" stroke-width="1.1"/>
<line x1="431.73" y1="299.50" x2="431.73" y2="301.10" stroke="#000" stroke-width="0.9"/>
<line x1="436.48" y1="299.50" x2="436.48" y2="301.10" stroke="#000" stroke-width="0.9"/>
<line x1="439.86" y1="299.50" x2="439.86" y2="301.10" stroke="#000" stroke-width="0.9"/>
<line x1="442.47" y1="299.50" x2="442.47" y2="301.10" stroke="#000" stroke-width="0.9"/>
<line x1="444.61" y1="299.50" x2="444.61" y2="301.10" stroke="#000" stroke-width="0.9"/>
<line x1="446.42" y1="299.50" x2="446.42" y2="301.10" stroke="#000" stroke-width="0.9"/>
<line x1="447.98" y1="299.50" x2="447.98" y2="301.10" stroke="#000" stroke-width="0.9"/>
<line x1="449.36" y1="299.50" x2="449.36" y2="301.10" stroke="#000" stroke-width="0.9"/>
<line x1="450.60" y1="299.50" x2="450.60" y2="302.50" stroke="#000" stroke-width="1.1"/>
<line x1="458.73" y1="299.50" x2="458.73" y2="301.10" stroke="#000" stroke-width="0.9"/>
<line x1="463.48" y1="299.50" x2="463.48" y2="301.10" stroke="#000" stroke-width="0.9"/>
<line x1="466.86" y1="299.50" x2="466.86" y2="301.10" stroke="#000" stroke-width="0.9"/>
<line x1="469.47" y1="299.50" x2="469.47" y2="301.10" stroke="#000" stroke-width="0.9"/>
<line x1="471.61" y1="299.50" x2="471.61" y2="301.10" stroke="#000" stroke-width="0.9"/>
<line x1="473.42" y1="299.50" x2="473.42" y2="301.10" stroke="#000" stroke-width="0.9"/>
<line x1="474.98" y1="299.50" x2="474.98" y2="301.10" stroke="#000" stroke-width="0.9"/>
<line x1="476.36" y1="299.50" x2="476.36" y2="301.10" stroke="#000" stroke-width="0.9"/>
<line x1="477.60" y1="299.50" x2="477.60" y2="302.50" stroke="#000" stroke-width="1.1"/>
<line x1="485.73" y1="299.50" x2="485.73" y2="301.10" stroke="#000" stroke-width="0.9"/>
<line x1="490.48" y1="299.50" x2="490.48" y2="301.10" stroke="#000" stroke-width="0.9"/>
<line x1="493.86" y1="299.50" x2="493.86" y2="301.10" stroke="#000" stroke-width="0.9"/>
<line x1="496.47" y1="299.50" x2="496.47" y2="301.10" stroke="#000" stroke-width="0.9"/>
<line x1="498.61" y1="299.50" x2="498.61" y2="301.10" stroke="#000" stroke-width="0.9"/>
<line x1="500.42" y1="299.50" x2="500.42" y2="301.10" stroke="#000" stroke-width="0.9"/>
<line x1="501.98" y1="299.50" x2="501.98" y2="301.10" stroke="#000" stroke-width="0.9"/>
<line x1="503.36" y1="299.50" x2="503.36" y2="301.10" stroke="#000" stroke-width="0.9"/>
<line x1="504.60" y1="299.50" x2="504.60" y2="302.50" stroke="#000" stroke-width="1.1"/>
<line x1="403.10" y1="299.50" x2="403.10" y2="301.10" stroke="#000" stroke-width="0.9"/>
<line x1="407.10" y1="299.50" x2="407.10" y2="301.10" stroke="#000" stroke-width="0.9"/>
<line x1="414.60" y1="299.50" x2="414.60" y2="301.10" stroke="#000" stroke-width="0.9"/>
<line x1="418.60" y1="299.50" x2="418.60" y2="301.10" stroke="#000" stroke-width="0.9"/>
<text transform="translate(428.94,198.16) scale(0.979,1)" font-size="13.57" font-weight="bold" fill="#000">1.54</text>
</svg></body></html>
